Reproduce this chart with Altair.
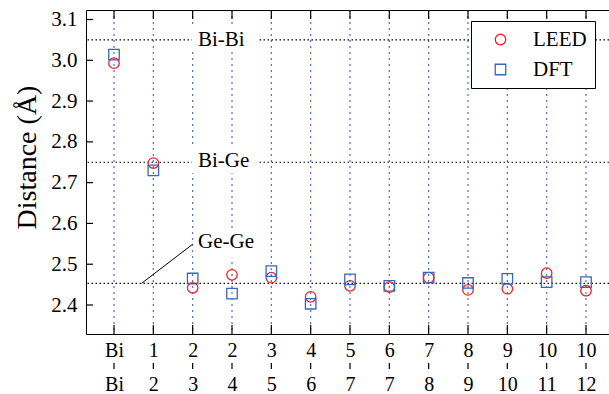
import altair as alt
import pandas as pd

# ---- data ----
top_labels = ["Bi", "1", "2", "2", "3", "4", "5", "6", "7", "8", "9", "10", "10"]
bottom_labels = ["Bi", "2", "3", "4", "5", "6", "7", "7", "8", "9", "10", "11", "12"]
leed = [2.993, 2.748, 2.442, 2.474, 2.467, 2.420, 2.447, 2.444, 2.467, 2.437, 2.440, 2.478, 2.435]
dft = [3.014, 2.730, 2.465, 2.428, 2.483, 2.403, 2.463, 2.447, 2.467, 2.454, 2.464, 2.456, 2.456]
methods = ["LEED", "DFT"]

ref_names = ["Bi-Bi", "Bi-Ge", "Ge-Ge"]
ref_values = [3.05, 2.75, 2.453]
# annotation anchors (data units)
label_x = [2.136, 2.136, 2.136]
label_y = [3.05, 2.752, 2.5545]
box_x = [2.82, 2.82, 2.86]
box_y = [3.053, 2.755, 2.548]
pointer_x = [0.70, 2.0]
pointer_y = [2.453, 2.549]
y_ticks = [2.4, 2.5, 2.6, 2.7, 2.8, 2.9, 3.0, 3.1]

FONT = "Liberation Serif"
RED = "#E8262A"
BLUE = "#3A66B5"
DOTBLUE = "#4C6FC9"

W, H = 523, 324
TICK = 9       # inward tick length on x
YTICK = 7      # inward tick length on y

idx = list(range(len(top_labels)))
cat_df = pd.DataFrame({"i": idx})
ytick_df = pd.DataFrame({"v": y_ticks})
pts_df = pd.DataFrame({
    "i": idx + idx,
    "v": leed + dft,
    "method": [methods[0]] * len(leed) + [methods[1]] * len(dft),
})
ref_df = pd.DataFrame({"name": ref_names, "v": ref_values, "lx": label_x, "ly": label_y,
                       "bx": box_x, "by": box_y})
ptr_df = pd.DataFrame({"x": pointer_x, "y": pointer_y})

xs = alt.Scale(domain=[-0.712, 12.585], nice=False, zero=False)
ys = alt.Scale(domain=[2.3289, 3.1233], nice=False, zero=False)

top_expr = "[" + ",".join(f"'{s}'" for s in top_labels) + "][round(datum.value)]"
bot_expr = "[" + ",".join(f"'{s}'" for s in bottom_labels) + "][round(datum.value)]"

common = dict(grid=False, labelFlush=False, labelOverlap=False, title=None)

ax_line1 = alt.Axis(orient="bottom", values=idx, labelExpr=top_expr, ticks=False,
                    domain=True, domainColor="black", domainWidth=1, labelPadding=6,
                    labelFont=FONT, labelFontSize=20, labelColor="black", **common)
ax_line2 = alt.Axis(orient="bottom", values=idx, labelExpr=bot_expr, offset=29, ticks=False,
                    domain=False, labelPadding=11, labelFont=FONT, labelFontSize=20,
                    labelColor="black", **common)
ax_top_dom = alt.Axis(orient="top", values=idx, ticks=False, domain=True, domainColor="black",
                      domainWidth=1, labels=False, **common)

ax_yl = alt.Axis(orient="left", values=y_ticks, format=".1f", ticks=False,
                 domain=True, domainColor="black", domainWidth=1, labelPadding=9,
                 labelFont=FONT, labelFontSize=21, labelColor="black", grid=False,
                 title="Distance (Å)", titleFont=FONT, titleFontSize=28, titleFontWeight="normal",
                 titleColor="black", titleX=-51, titleY=147, titleAngle=270,
                 titleAlign="center", titleBaseline="alphabetic")

legend = alt.Legend(orient="none", legendX=385, legendY=11, title=None, fillColor="white",
                    strokeColor="black", padding=8, symbolOffset=11, labelOffset=22,
                    rowPadding=8, labelFont=FONT, labelFontSize=21, labelColor="black",
                    symbolSize=110, symbolStrokeWidth=1.3,
                    labelExpr="datum.label + '\u00a0\u00a0\u00a0'")

vr = alt.Chart(cat_df).mark_rule(color=DOTBLUE, strokeDash=[2, 4], strokeWidth=1.2).encode(
    x=alt.X("i:Q", scale=xs, axis=ax_line1))
hr = alt.Chart(ref_df).mark_rule(color="black", strokeDash=[1.5, 2.5], strokeWidth=1.2).encode(
    y=alt.Y("v:Q", scale=ys, axis=None))

# inward ticks and the small separator dash between the two label rows
tick_top = alt.Chart(cat_df).mark_rule(color="black", strokeWidth=1.2).encode(
    x=alt.X("i:Q", scale=xs, axis=None),
    y=alt.YValue(0), y2=alt.Y2Value(TICK))
tick_bot = alt.Chart(cat_df).mark_rule(color="black", strokeWidth=1.2).encode(
    x=alt.X("i:Q", scale=xs, axis=None),
    y=alt.YValue(H - TICK), y2=alt.Y2Value(H))
tick_sep = alt.Chart(cat_df).mark_rule(color="black", strokeWidth=1.2).encode(
    x=alt.X("i:Q", scale=xs, axis=None),
    y=alt.YValue(H + 29), y2=alt.Y2Value(H + 35))
tick_left = alt.Chart(ytick_df).mark_rule(color="black", strokeWidth=1.2).encode(
    y=alt.Y("v:Q", scale=ys, axis=None),
    x=alt.XValue(0), x2=alt.X2Value(YTICK))

ptr = alt.Chart(ptr_df).mark_line(color="black", strokeWidth=1).encode(
    x=alt.X("x:Q", scale=xs, axis=ax_line2), y=alt.Y("y:Q", scale=ys, axis=ax_yl))
box = alt.Chart(ref_df).mark_point(shape="M-1,-0.394L1,-0.394L1,0.394L-1,0.394Z", size=4356,
                                   filled=True, color="white", opacity=1, strokeWidth=0).encode(
    x=alt.X("bx:Q", scale=xs, axis=ax_top_dom), y=alt.Y("by:Q", scale=ys, axis=None))
txt = alt.Chart(ref_df).mark_text(align="left", baseline="middle", font=FONT, fontSize=21,
                                  color="black").encode(
    x=alt.X("lx:Q", scale=xs, axis=None), y=alt.Y("ly:Q", scale=ys, axis=None),
    text="name:N")
pts = alt.Chart(pts_df).mark_point(filled=False, strokeWidth=1.3, opacity=1, size=110).encode(
    x=alt.X("i:Q", scale=xs, axis=None),
    y=alt.Y("v:Q", scale=ys, axis=None),
    color=alt.Color("method:N", scale=alt.Scale(domain=methods, range=[RED, BLUE]), legend=legend),
    shape=alt.Shape("method:N", scale=alt.Scale(domain=methods, range=["circle", "square"]),
                    legend=legend),
)

chart = alt.layer(vr, hr, tick_top, tick_bot, tick_sep, tick_left, ptr, box, txt, pts).resolve_axis(
    x="independent", y="independent"
).properties(
    width=W, height=H,
    padding={"left": 86, "top": 10, "right": 0, "bottom": 60},
    autosize=alt.AutoSizeParams(type="none"),
    background="white",
).configure_view(strokeWidth=0)

chart.save("out.html", embed_options={"renderer": "svg", "actions": False})
